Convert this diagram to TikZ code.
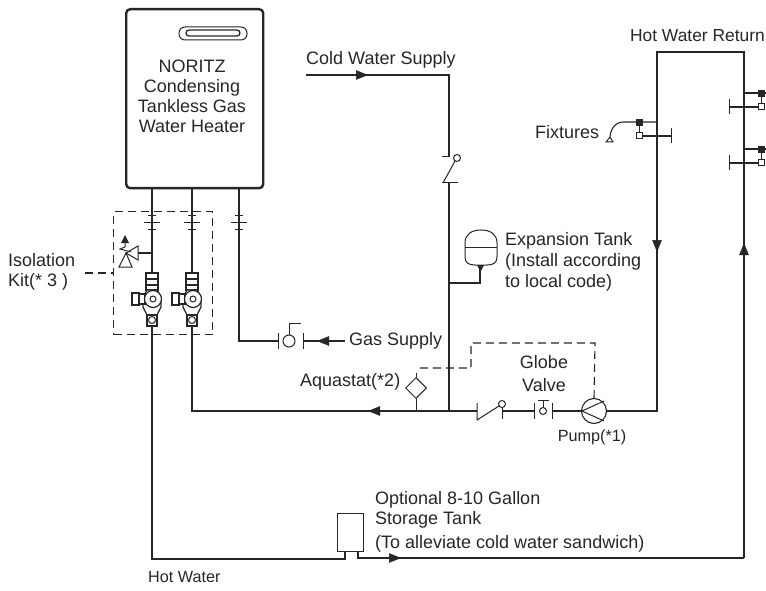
\documentclass[tikz,border=0pt]{standalone}
\usepackage{fontspec}
\setmainfont{Liberation Sans}
\usetikzlibrary{positioning}
\usetikzlibrary{arrows.meta}
\usetikzlibrary{shapes.geometric}
\tikzstyle{pipe}=[draw=black!85, line width=2.4pt]
\tikzstyle{midpipe}=[draw=black!85, line width=1.9pt]
\tikzstyle{thinpipe}=[draw=black!85, line width=1.1pt]
\tikzstyle{sym}=[draw=black!85, line width=1pt]
\tikzstyle{sensor}=[draw=black!85, line width=1.1pt, dash pattern=on 8pt off 5pt]
\tikzstyle{tag}=[font=\fontsize{18}{20}\selectfont, inner sep=0pt, text=black!85]
\tikzstyle{smalltag}=[tag, font=\fontsize{16.2}{20}\selectfont]
\tikzstyle{flowtip}=[draw=black!85, line width=0.5pt, -{Triangle[length=12pt,width=9.5pt]}]
\tikzstyle{ball}=[circle, draw=black!85, line width=1pt, fill=white, inner sep=0pt, minimum size=7pt]
\tikzstyle{blackcap}=[rectangle, draw=black!85, fill=black!85, inner sep=0pt, minimum size=6.5pt]
\tikzstyle{whitecap}=[rectangle, draw=black!85, line width=1pt, fill=white, inner sep=0pt, minimum size=6pt]
\tikzset{
  isovalve/.pic={
    \draw[sym, line width=1.2pt, fill=white] (-6,-26) rectangle (6,-9);
    \draw[sym, line width=1.2pt] (-6,-20) -- (6,-20) (-6,-14) -- (6,-14);
    \draw[sym, line width=1.2pt, fill=white] (-5,-9) -- (5,-9) -- (9,-2) -- (9,8) -- (5,16) -- (-5,16) -- (-9,8) -- (-9,-2) -- cycle;
    \draw[sym, line width=1.2pt, fill=white] (-20,-6) rectangle (-13,6);
    \draw[sym, line width=1.2pt, fill=white] (-13,-5) rectangle (-7,5);
    \draw[sym, line width=1.2pt, fill=white] (1,0) circle (8.5);
    \draw[sym, fill=white] (1,0) circle (3);
    \draw[sym, line width=1.2pt, fill=white] (-5,16) rectangle (5,27);
    \draw[sym] (0,21) circle (3.5);
  }
}
\begin{document}
\begin{tikzpicture}[x=1pt, y=-1pt]
    \useasboundingbox (0,0) rectangle (766,591);

    % heater
    \node[draw=black!85, line width=2.4pt, rounded corners=4pt, minimum width=137pt, minimum height=179pt, inner sep=0pt, anchor=north west] (heater) at (125,8) {};
    \draw[sym, rounded corners=6pt] (179,27) rectangle (247,40);
    \draw[sym, rounded corners=3pt, line width=1.3pt] (186,30) rectangle (240,36);
    \node[tag, align=center] (heatertag) at (192,96) {NORITZ\\Condensing\\Tankless Gas\\Water Heater};

    % storage tank
    \node[draw=black!85, line width=1pt, minimum width=26pt, minimum height=38pt, inner sep=0pt, anchor=north west] (storage) at (337,513) {};

    % coordinates of the pipe work
    \coordinate (hotout)  at (152,187);
    \coordinate (hotin)   at (192,187);
    \coordinate (gasin)   at (239,187);
    \coordinate (hotend)  at (152,559);
    \coordinate (retlow)  at (744,558);
    \coordinate (rettop)  at (744,52);
    \coordinate (lefttop) at (657,52);
    \coordinate (leftlow) at (657,411);
    \coordinate (cross)   at (449,411);
    \coordinate (coldin)  at (306,75);

    % pipes
    \draw[pipe] (hotout) -- (152,275);
    \draw[pipe] (hotin) -- (192,275);
    \draw[pipe] (192,325) -- (192,411) -- (cross);
    \draw[pipe] (152,325) -- (hotend) -- (345,559) -- (345,551);
    \draw[pipe] (358,551) -- (358,558) -- (retlow);
    \draw[pipe] (retlow) -- (rettop) -- (lefttop) -- (leftlow) -- (606,411);
    \draw[midpipe] (cross) -- (477,411);
    \draw[midpipe] (502,411) -- (534,411);
    \draw[midpipe] (552,411) -- (582,411);
    \draw[midpipe] (coldin) -- (449,75) -- (449,157);
    \draw[pipe] (449,183) -- (cross);
    \draw[pipe] (480,265) -- (480,283) -- (449,283);
    \draw[midpipe] (152,253) -- (138,253);

    % arrows on the pipes
    \draw[flowtip] (657,240) -- (657,252);
    \draw[flowtip] (744,255) -- (744,243);
    \draw[flowtip] (389,558) -- (401,558);
    \draw[flowtip] (356,75) -- (368,75);
    \draw[flowtip] (380,411) -- (368,411);
    \draw[flowtip] (329,341) -- (317,341);

    % gas line
    \draw[thinpipe] (gasin) -- (239,341) -- (278,341);
    \draw[thinpipe] (303,341) -- (345,341);
    \draw[sym] (278,333) -- (278,349) (303,333) -- (303,349);
    \draw[sym] (289,335) -- (289,323) -- (301,323);
    \node[ball, minimum size=12pt] (gasvalve) at (289,341) {};

    % pipe unions
    \foreach \xpos in {152, 192, 239} {
      \draw[sym] (\xpos-4,215) -- (\xpos+4,215);
      \draw[sym] (\xpos-8,222) -- (\xpos+8,222);
      \draw[sym] (\xpos-4,229) -- (\xpos+4,229);
    }

    % isolation kit
    \node[sensor, minimum width=99pt, minimum height=123pt, inner sep=0pt, anchor=north west] (kit) at (113,211) {};
    \coordinate (kitlead) at (85,273);
    \draw[sensor] (kitlead) -- (kit.west |- kitlead);
    \pic at (152,299) {isovalve};
    \pic at (192,299) {isovalve};

    % relief valve
    \draw[sym] (138,246) -- (138,260) -- (126,253) -- cycle;
    \draw[sym] (119,267) -- (132,267) -- (126,253) -- cycle;
    \draw[sym] (125,243) -- (125,247) -- (120,249) -- (131,252);
    \fill[black!85] (125,235) -- (121,243) -- (129,243) -- cycle;

    % check valve, cold water
    \draw[sym] (442,157) -- (449,157);
    \draw[sym] (455,161) -- (443,183);
    \draw[sym] (442,183) -- (458,183);
    \node[ball] (coldcheck) at (457,158) {};

    % expansion tank
    \draw[sym, fill=white] (465,243) .. controls (465,234) and (472,230) .. (481,230) .. controls (490,230) and (497,234) .. (497,243) -- (497,257) .. controls (497,263) and (493,265) .. (487,265) -- (475,265) .. controls (469,265) and (465,263) .. (465,257) -- cycle;
    \draw[sym] (465,247) -- (497,247);
    \fill[black!85] (477,265) -- (484,265) -- (481.5,270) -- (479.5,270) -- cycle;

    % hot line valves
    \draw[sym] (477,403) -- (477,420) -- (499,406);
    \draw[sym] (502,404) -- (502,419);
    \node[ball] (hotcheck) at (502,404) {};
    \draw[sym] (534,403) -- (534,419) (552,403) -- (552,419);
    \draw[sym] (543,408) -- (543,400) (538,400) -- (549,400);
    \node[ball] (globevalve) at (543,411) {};
    \node[circle, draw=black!85, line width=1.1pt, minimum size=25pt, inner sep=0pt] (pump) at (594,411) {};
    \draw[sym] (604,401) -- (582,411) -- (604,421);

    % aquastat
    \node[diamond, draw=black!85, line width=1pt, minimum size=21pt, inner sep=0pt] (aquastat) at (416,388) {};
    \draw[sym] (aquastat.south) -- (416,411);
    \draw[sym] (aquastat.north) -- (416,373);
    \draw[sensor] (pump.north) -- (595,343) -- (471,343) -- (471,368) -- (417,368);

    % fixtures
    \draw[thinpipe] (657,122) -- (623,122) .. controls (615,122) and (610,130) .. (610,138);
    \draw[sym] (606,142) -- (613,142) -- (610,137) -- cycle;
    \draw[sym] (639,122) -- (639,136);
    \draw[thinpipe] (639,136) -- (671,136);
    \draw[sym] (671,128) -- (671,143);
    \node[blackcap] (fixblack) at (639,122) {};
    \node[whitecap] (fixwhite) at (639,136) {};
    \foreach \ypos in {93,149} {
      \draw[thinpipe] (744,\ypos) -- (766,\ypos);
      \draw[sym] (761,\ypos) -- (761,\ypos+14);
      \draw[thinpipe] (729,\ypos+14) -- (761,\ypos+14);
      \draw[sym] (729,\ypos+6) -- (729,\ypos+21);
      \node[blackcap] at (761,\ypos) {};
      \node[whitecap] at (761,\ypos+14) {};
    }

    % labels
    \node[tag, font=\fontsize{17.4}{20}\selectfont, anchor=east] (hotreturn) at (765,36) {Hot Water Return};
    \node[tag, anchor=west] (coldsupply) at (306,60) {Cold Water Supply};
    \node[tag, anchor=west] (fixtures) at (535,132) {Fixtures};
    \node[tag, anchor=west, align=left] (exptank) at (505,262) {Expansion Tank\\[1pt](Install according\\[1pt]to local code)};
    \node[tag, anchor=west] (gassupply) at (349,341) {Gas Supply};
    \node[tag, anchor=west] (aquatag) at (300,382) {Aquastat(*2)};
    \node[tag, align=center] (globetag) at (544,374) {Globe\\[3pt]Valve};
    \node[smalltag] (pumptag) at (592,437) {Pump(*1)};
    \node[tag, anchor=west, align=left] (isotag) at (8,272) {Isolation\\Kit(* 3 )};
    \node[tag, anchor=west, align=left] (storagetag) at (375,522) {Optional 8-10 Gallon\\Storage Tank\\[4pt](To alleviate cold water sandwich)};
    \node[smalltag, anchor=west] (hotwater) at (148,577) {Hot Water};
  \end{tikzpicture}
\end{document}
